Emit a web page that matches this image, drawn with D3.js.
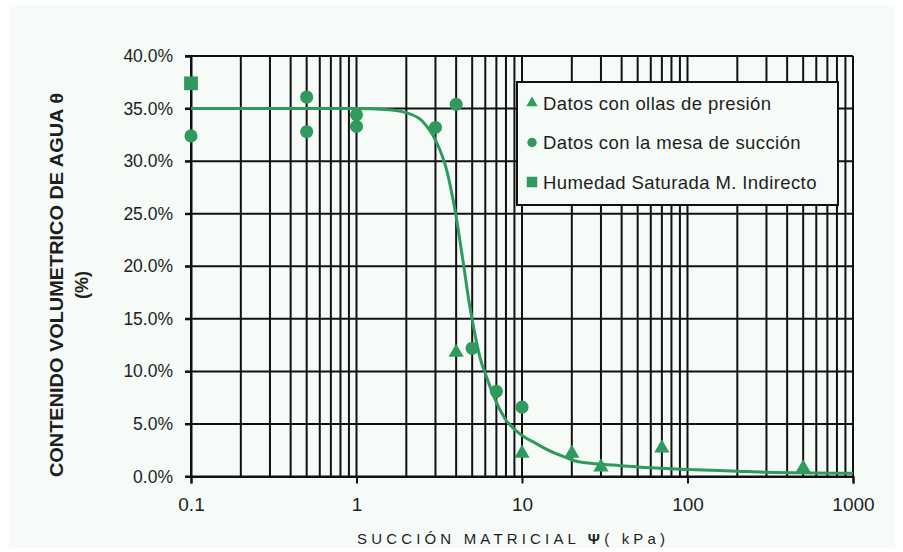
<!DOCTYPE html>
<html>
<head>
<meta charset="utf-8">
<script src="https://cdn.jsdelivr.net/npm/d3@7"></script>
<style>
  body { margin: 0; background: #fff; }
  svg { display: block; }
  text { font-family: "Liberation Sans", Arial, sans-serif; fill: #1e1e1e; }
</style>
</head>
<body>
<svg id="chart" width="903" height="552"></svg>
<script>
// tick values
var xTicks = [0.1, 1, 10, 100, 1000];
var yTicks = [0, 0.05, 0.10, 0.15, 0.20, 0.25, 0.30, 0.35, 0.40];

// Datos con ollas de presion (triangles)
var ollasX = [4, 10, 20, 30, 70, 500];
var ollasY = [0.118, 0.022, 0.022, 0.009, 0.027, 0.008];

// Datos con la mesa de succion (circles)
var mesaX = [0.1, 0.5, 0.5, 1, 1, 3, 4, 5, 7, 10];
var mesaY = [0.324, 0.361, 0.328, 0.344, 0.333, 0.332, 0.354, 0.122, 0.081, 0.066];

// Humedad saturada M. indirecto (square)
var satX = [0.1];
var satY = [0.374];

// fitted curve
var curveX = [0.1, 1, 1.5, 2, 2.5, 3, 3.5, 3.9, 4.4, 4.8, 5.2, 5.6, 6.1, 6.8, 7.9, 10, 12, 14, 18.5, 22, 35, 50, 90, 200, 300, 1000];
var curveY = [0.350, 0.350, 0.349, 0.346, 0.338, 0.320, 0.292, 0.257, 0.205, 0.165, 0.135, 0.112, 0.095, 0.075, 0.055, 0.039, 0.032, 0.026, 0.018, 0.014, 0.011, 0.009, 0.007, 0.005, 0.004, 0.003];

var legendLabels = ['Datos con ollas de presión', 'Datos con la mesa de succión', 'Humedad Saturada M. Indirecto'];

var green = '#2e9a5e';
var bg = '#f6fbf8';
var gridColor = '#111';

var svg = d3.select('#chart');
var plot = { left: 191, right: 853, top: 56, bottom: 476.5 };

var x = d3.scaleLog().domain([0.1, 1000]).range([plot.left, plot.right]);
var y = d3.scaleLinear().domain([0, 0.40]).range([plot.bottom, plot.top]);

svg.append('rect')
  .attr('x', 9).attr('y', 5)
  .attr('width', 886).attr('height', 543)
  .attr('fill', bg);

// vertical grid at every log step
var minor = [];
xTicks.slice(0, -1).forEach(function(d) {
  for (var k = 1; k < 10; k++) minor.push(d * k);
});
minor.push(1000);

svg.append('g').selectAll('line')
  .data(minor)
  .enter().append('line')
  .attr('x1', d => x(d)).attr('x2', d => x(d))
  .attr('y1', plot.top).attr('y2', plot.bottom)
  .attr('stroke', gridColor).attr('stroke-width', 2);

// horizontal grid
svg.append('g').selectAll('line')
  .data(yTicks)
  .enter().append('line')
  .attr('x1', plot.left - 6).attr('x2', plot.right)
  .attr('y1', d => y(d)).attr('y2', d => y(d))
  .attr('stroke', gridColor).attr('stroke-width', 2);

// axes
var yAxis = d3.axisLeft(y).tickValues(yTicks).tickSize(6).tickPadding(12)
  .tickFormat(d3.format('.1%'));
var gy = svg.append('g').attr('transform', 'translate(' + plot.left + ',0)').call(yAxis);
gy.select('.domain').attr('stroke', gridColor).attr('stroke-width', 2);
gy.selectAll('.tick line').attr('stroke', gridColor).attr('stroke-width', 2);
gy.selectAll('.tick text')
  .style('font-family', '"Liberation Sans", Arial, sans-serif')
  .style('font-size', '17.5px').attr('fill', '#333');

var xAxis = d3.axisBottom(x).tickValues(xTicks).tickSize(7).tickPadding(14)
  .tickFormat(d => String(d));
var gx = svg.append('g').attr('transform', 'translate(0,' + plot.bottom + ')').call(xAxis);
gx.select('.domain').attr('stroke', gridColor).attr('stroke-width', 2);
gx.selectAll('.tick line').attr('stroke', gridColor).attr('stroke-width', 2);
gx.selectAll('.tick text')
  .style('font-family', '"Liberation Sans", Arial, sans-serif')
  .style('font-size', '19px').attr('fill', '#333');

// curve
var pts = curveX.map((d, i) => [x(d), y(curveY[i])]);
svg.append('path')
  .attr('d', d3.line().curve(d3.curveMonotoneX)(pts))
  .attr('fill', 'none')
  .attr('stroke', green)
  .attr('stroke-width', 3);

// markers
function drawMarkers(xs, ys, type, size) {
  svg.append('g').selectAll('path')
    .data(xs)
    .enter().append('path')
    .attr('transform', (d, i) => 'translate(' + x(d) + ',' + y(ys[i]) + ')')
    .attr('d', d3.symbol().type(type).size(size))
    .attr('fill', green);
}
drawMarkers(mesaX, mesaY, d3.symbolCircle, 135);
drawMarkers(ollasX, ollasY, d3.symbolTriangle, 100);
drawMarkers(satX, satY, d3.symbolSquare, 190);

// legend
var legend = svg.append('g');
legend.append('rect')
  .attr('x', 517).attr('y', 82)
  .attr('width', 321).attr('height', 123)
  .attr('fill', bg)
  .attr('stroke', gridColor).attr('stroke-width', 2);

var legendTypes = [d3.symbolTriangle, d3.symbolCircle, d3.symbolSquare];
var legendSizes = [55, 70, 110];
legendLabels.forEach(function(label, i) {
  var ly = 103 + i * 39.5;
  legend.append('path')
    .attr('transform', 'translate(532,' + ly + ')')
    .attr('d', d3.symbol().type(legendTypes[i]).size(legendSizes[i]))
    .attr('fill', green);
  legend.append('text')
    .attr('x', 543).attr('y', ly)
    .attr('dy', '0.36em')
    .style('font-size', '18.5px')
    .style('letter-spacing', '0.4px')
    .text(label);
});

// axis titles
var xTitle = svg.append('text')
  .attr('x', 511).attr('y', 544)
  .attr('text-anchor', 'middle')
  .attr('textLength', 308)
  .attr('lengthAdjust', 'spacing')
  .style('font-size', '15px');
xTitle.append('tspan').text('SUCCIÓN MATRICIAL ');
xTitle.append('tspan').style('font-weight', 'bold').text('Ψ');
xTitle.append('tspan').text('( kPa)');

var yTitle = svg.append('g').attr('transform', 'translate(57,285) rotate(-90)');
yTitle.append('text')
  .attr('text-anchor', 'middle')
  .attr('dy', '0.36em')
  .attr('textLength', 384)
  .attr('lengthAdjust', 'spacingAndGlyphs')
  .style('font-size', '18px').style('font-weight', 'bold')
  .text('CONTENIDO VOLUMETRICO DE AGUA   θ');
yTitle.append('text')
  .attr('y', 25)
  .attr('text-anchor', 'middle')
  .attr('dy', '0.36em')
  .style('font-size', '18px').style('font-weight', 'bold')
  .text('(%)');
</script>
</body>
</html>
